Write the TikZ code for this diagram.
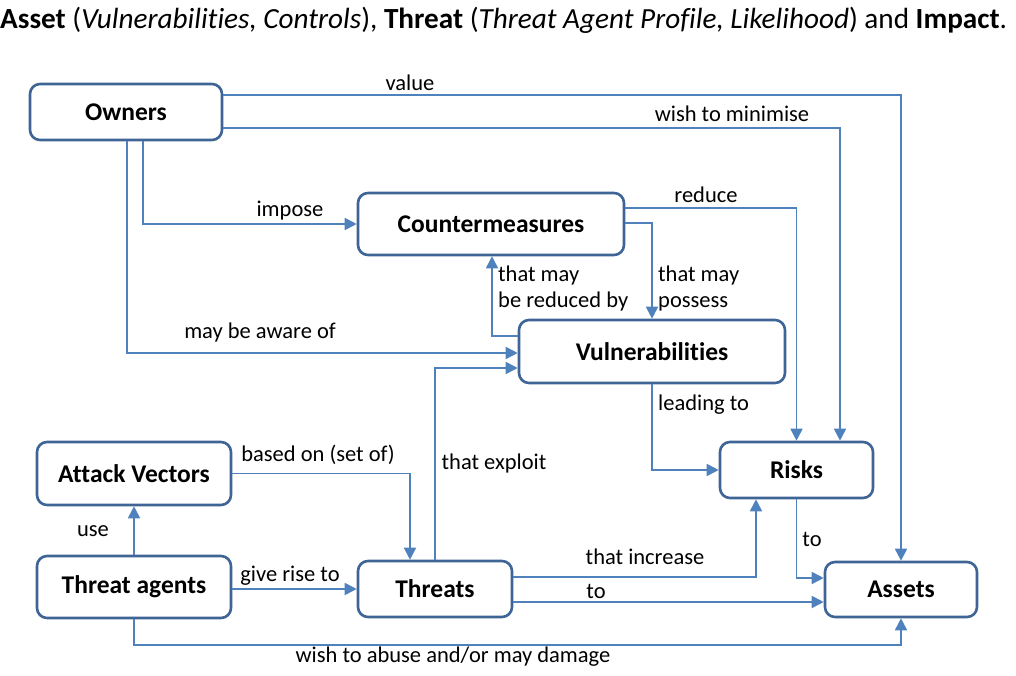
\documentclass[tikz,border=0pt]{standalone}
\usepackage{fontspec}
\setmainfont{Carlito}[Ligatures={NoCommon}]
\usetikzlibrary{arrows.meta}
\definecolor{lnblue}{HTML}{4F81BD}
\definecolor{bxblue}{HTML}{3F6496}
\begin{document}
\begin{tikzpicture}[x=1pt,y=-1pt,
  box/.style={draw=bxblue, line width=2.6pt, rounded corners=10pt, fill=white,
    font=\fontsize{25.5}{29}\selectfont\bfseries, inner sep=0pt},
  arr/.style={draw=lnblue, line width=1.8pt, -{Triangle[length=12pt,width=12pt]}},
  lbl/.style={font=\fontsize{22.5}{26}\selectfont, inner sep=0pt, align=left}]
\useasboundingbox (0,0) rectangle (1016,676);
% title
\node[anchor=base west, inner sep=0pt, font=\fontsize{29.2}{33}\selectfont] (title) at (0,29)
  {\textbf{Asset} (\textit{Vulnerabilities, Controls}), \textbf{Threat} (\textit{Threat Agent Profile, Likelihood}) and \textbf{Impact}.};
% boxes
\node[box, minimum width=192pt, minimum height=56pt] (own) at (126,112) {Owners};
\node[box, minimum width=266pt, minimum height=62pt] (cm) at (491,224) {Countermeasures};
\node[box, minimum width=266pt, minimum height=63pt] (vul) at (652,351.5) {Vulnerabilities};
\node[box, minimum width=194pt, minimum height=63pt] (av) at (134,473.5) {Attack Vectors};
\node[box, minimum width=194pt, minimum height=62pt] (ta) at (134,587) {Threat agents};
\node[box, minimum width=154pt, minimum height=56pt] (thr) at (435,589) {Threats};
\node[box, minimum width=153pt, minimum height=56pt] (ris) at (796.5,470) {Risks};
\node[box, minimum width=152pt, minimum height=55pt] (ass) at (901,589.5) {Assets};
% connectors
\draw[arr] (own.east |- 0,95) -| (ass.north);
\draw[arr] (own.east |- 0,128) -| (ris.north -| 840,0);
\draw[arr] (own.south -| 143,0) |- (cm.west);
\draw[arr] (own.south -| 127,0) |- (vul.west |- 0,353);
\draw[arr] (cm.east |- 0,208) -| (ris.north);
\draw[arr] (cm.east |- 0,223) -| (vul.north);
\draw[arr] (vul.west |- 0,336) -| (cm.south -| 492,0);
\draw[arr] (thr.north) |- (vul.west |- 0,368);
\draw[arr] (vul.south) |- (ris.west);
\draw[arr] (av.east) -| (thr.north -| 410,0);
\draw[arr] (ta.north) -- (av.south);
\draw[arr] (ta.east |- thr.west) -- (thr.west);
\draw[arr] (thr.east |- 0,577) -| (ris.south -| 756,0);
\draw[arr] (thr.east |- 0,602) -- (ass.west |- 0,602);
\draw[arr] (ris.south) |- (ass.west |- 0,578);
\draw[arr] (ta.south) |- (901,645) -- (ass.south);
% labels
\node[lbl] (lvalue) at (410,83) {value};
\node[lbl] (lmin) at (732,114) {wish to minimise};
\node[lbl] (limp) at (290,211) {impose};
\node[lbl] (laware) at (260,333) {may be aware of};
\node[lbl] (lred) at (706,195) {reduce};
\node[lbl, anchor=west] (lposs) at (658,289) {that may\\possess};
\node[lbl, anchor=west] (lredby) at (498,289) {that may\\be reduced by};
\node[lbl, anchor=west] (llead) at (658,405) {leading to};
\node[lbl] (lexp) at (494,463) {that exploit};
\node[lbl] (lbased) at (318,455) {based on (set of)};
\node[lbl] (luse) at (93,531) {use};
\node[lbl] (lgive) at (290,576) {give rise to};
\node[lbl] (linc) at (645,557) {that increase};
\node[lbl] (lto1) at (596,591) {to};
\node[lbl] (lto2) at (812,539) {to};
\node[lbl] (labuse) at (453,657) {wish to abuse and/or may damage};
\end{tikzpicture}
\end{document}
